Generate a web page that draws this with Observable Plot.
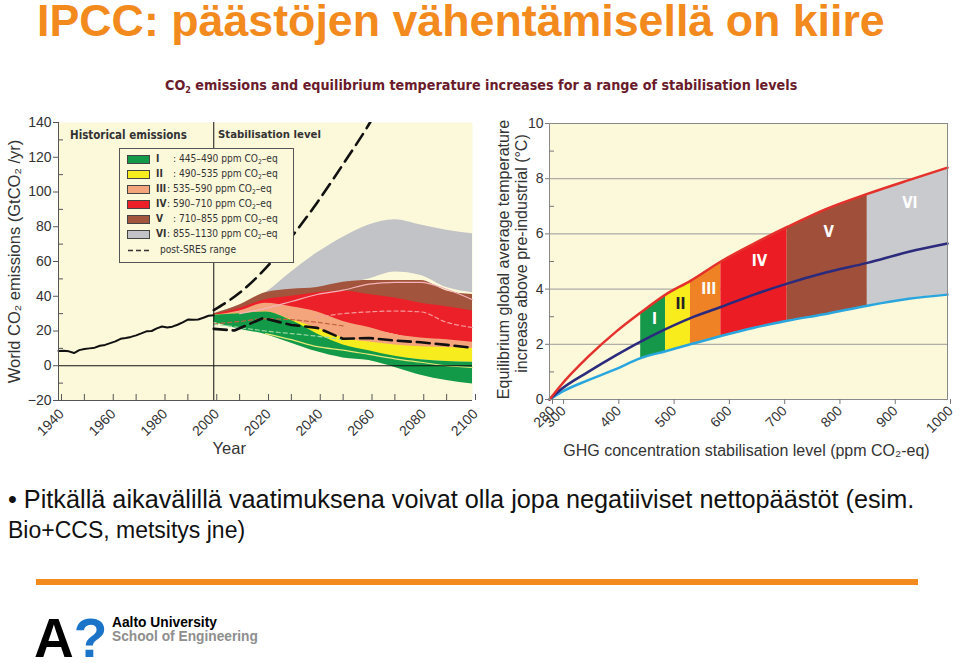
<!DOCTYPE html>
<html>
<head>
<meta charset="utf-8">
<script src="https://cdn.jsdelivr.net/npm/d3@7"></script>
<script src="https://cdn.jsdelivr.net/npm/@observablehq/plot@0.6"></script>
<style>
  html, body { margin: 0; padding: 0; background: #fff; }
  #page { position: relative; width: 960px; height: 663px; overflow: hidden; font-family: "Liberation Sans", Arial, sans-serif; }
  .abs { position: absolute; white-space: nowrap; }
  #title { left: 37px; top: 1px; font-size: 41px; line-height: 38px; font-weight: bold; color: #f28a1e; }
  #subtitle { left: 165px; top: 78px; font-size: 14px; line-height: 14px; font-weight: bold; color: #6a1b2b; font-family: "Liberation Sans Narrow", "DejaVu Sans Condensed", "Arial Narrow", sans-serif; }
  #subtitle sub { font-size: 9px; vertical-align: -3px; line-height: 0; }
  .bullet { left: 8px; font-size: 23px; line-height: 23px; color: #111; }
  #rule { left: 36px; top: 579px; width: 882px; height: 6px; background: #f28a1e; }
  .narrow { font-family: "Liberation Sans Narrow", "DejaVu Sans Condensed", "Arial Narrow", sans-serif; }
  #legend { left: 119px; top: 148px; width: 173px; height: 113px; background: #fcf8da; border: 1px solid #555; }
  .lrow { position: absolute; left: 0; height: 14px; font-size: 12px; line-height: 14px; color: #333; white-space: nowrap; }
  .sw { position: absolute; left: 7px; top: 3px; width: 21px; height: 7px; border: 1px solid #444; }
  .lnum { position: absolute; left: 36px; font-weight: bold; }
  .ltxt { position: absolute; left: 53px; }
  .ltxt sub { font-size: 0.65em; vertical-align: -2px; line-height: 0; }
  .phase { font-size: 13.5px; line-height: 14px; font-weight: bold; color: #333; }
  #logoA { left: 34px; top: 618px; font-size: 55px; line-height: 40px; font-weight: bold; color: #000; }
  #logoQ { color: #1b74c8; }
  #aalto1 { left: 112px; top: 616px; font-size: 13px; line-height: 13px; font-weight: bold; color: #000; }
  #aalto2 { left: 112px; top: 630px; font-size: 13px; line-height: 13px; font-weight: bold; color: #8e8e8e; }
</style>
</head>
<body>
<div id="page">
  <div id="title" class="abs" data-w="848">IPCC: päästöjen vähentämisellä on kiire</div>
  <div id="subtitle" class="abs" data-w="633">CO<sub>2</sub> emissions and equilibrium temperature increases for a range of stabilisation levels</div>
  <div id="leftChart" class="abs" style="left:0; top:110px;"></div>
  <div id="rightChart" class="abs" style="left:490px; top:110px;"></div>
  <div class="abs phase narrow" style="left:70px; top:128px;" data-w="117">Historical emissions</div>
  <div class="abs phase narrow" style="left:218px; top:128px;" data-w="103">Stabilisation level</div>
  <div id="legend" class="abs narrow"></div>
  <div class="abs bullet" style="top:488px;" data-w="907">• Pitkällä aikavälillä vaatimuksena voivat olla jopa negatiiviset nettopäästöt (esim.</div>
  <div class="abs bullet" style="top:519px;">Bio+CCS, metsitys jne)</div>
  <div id="rule" class="abs"></div>
  <div id="logoA" class="abs">A<span id="logoQ">?</span></div>
  <div id="aalto1" class="abs" data-w="105">Aalto University</div>
  <div id="aalto2" class="abs" data-w="146">School of Engineering</div>
</div>
<script>
// ---------- LEFT CHART DATA ----------
const histYears = [1940,1942,1944,1946,1948,1950,1952,1954,1956,1958,1960,1962,1964,1966,1968,1970,1972,1974,1976,1978,1980,1982,1984,1986,1988,1990,1992,1994,1996,1998,2000];
const histEmissions = [8.5,8.7,8.3,7.3,9.0,9.6,10.0,10.4,11.5,12.0,13.0,14.0,15.5,16.0,16.6,17.5,18.6,19.8,20.0,21.5,22.6,22.0,22.5,23.6,25.0,26.6,26.5,26.6,27.6,28.8,29.0];

const scenYears = [2000,2010,2020,2030,2040,2050,2060,2070,2080,2090,2100];
const categories = ["I","II","III","IV","V","VI"];
const categoryRanges = ["445–490","490–535","535–590","590–710","710–855","855–1130"];
const emisColors = ["#139a48","#f6ec1e","#f4a57c","#ec2028","#a2543c","#c2c3c6"];
const emisLow = {
  VI:  [30,34,38,41,44,47,50,54,52,45,42],
  V:   [29,32,35,37,38,38,37,36,34,33,31],
  IV:  [28,30,32,30,28,24,21,18,15,14,12],
  III: [27,28,29,25,20,15,13,11,10,9.5,9.5],
  II:  [27,28,29,24,16,10,7,5,3.5,2.5,2],
  I:   [25,21,18,13,8,4.5,3,-1,-5.5,-8.5,-10.5]
};
const emisHigh = {
  VI:  [30,35,42,54,65,74,81,84,81,78,76],
  V:   [30,35,42,44,45,48,49,49,49,43,41],
  IV:  [29.5,33,38,40,42,43,41,39,36,34,31.5],
  III: [29,31.5,36,34,31,25.5,22,18,16,15,13.5],
  II:  [29,30,31,26.5,21.7,16,13.6,12,11,10.5,10],
  I:   [29,30,31,26,18.3,12,8.6,5.4,3.5,2.5,2]
};
// post-SRES range
const sresUpperYears = [2000,2010,2020,2030,2040,2050,2060,2062];
const sresUpper = [32,42,56,74,94,116,139,144];
const sresLowerYears = [2000,2008,2019,2030,2040,2050,2060,2070,2080,2090,2100];
const sresLower = [21.2,20.3,27.4,23.5,21.8,15.5,16,14.5,13.5,12,10.3];
// faint median lines inside bands
const medYearsA = [2010,2020,2030,2040,2050,2060,2070,2080,2090,2100];
const medPinkA = [30,33,37,41,43.5,47,48,48,44,38];
const medYearsB = [2040,2050,2060,2070,2080,2090,2100];
const medPinkB = [28,30,31,31.5,31,25,22];
const medYearsC = [2000,2010,2020,2030,2040,2050];
const medBrownC = [24,25.5,27,26.5,25,23];
const medYearsD = [2020,2030,2040,2050,2060,2070,2080,2090,2100];
const medYellowD = [18.5,15,11,9,6.5,4,2,0,-1];
const medYearsE = [2000,2010,2020,2030,2040,2050];
const medGreenE = [24,22,20,18.5,17,15];

const xTicksL = [1940,1960,1980,2000,2020,2040,2060,2080,2100];
const xMinorL = [1950,1970,1990,2010,2030,2050,2070,2090];
const yTicksL = [-20,0,20,40,60,80,100,120,140];
const yMinorL = [-10,10,30,50,70,90,110,130];

// ---------- RIGHT CHART DATA ----------
const conc = [280,300,350,400,445,490,535,590,650,710,780,855,930,1000];
const tempHigh = [0,0.5,1.55,2.45,3.15,3.8,4.3,5.0,5.65,6.25,6.9,7.45,7.95,8.4];
const tempBest = [0,0.35,1.0,1.6,2.1,2.55,2.95,3.35,3.8,4.2,4.6,4.95,5.35,5.65];
const tempLow  = [0,0.25,0.7,1.1,1.5,1.75,2.0,2.3,2.6,2.85,3.1,3.4,3.65,3.8];
const bandEdges = [445,490,535,590,710,855,1000];
const tempColors = ["#16984a","#f8ec1c","#f08226","#ec1c24","#a0503a","#c9cacd"];
const labelX = [470,517,568,660,785,932];
const labelY = [2.9,3.45,4.0,5.0,6.05,7.1];
const labelFill = ["#fff","#222","#fff","#fff","#fff","#fff"];
const xTicksR = [280,300,400,500,600,700,800,900,1000];
const yTicksR = [0,2,4,6,8,10];
const yMinorR = [1,3,5,7,9];
const gridR = [2,4,6,8];

const fmtNum = d => d < 0 ? "−" + Math.abs(d) : String(d);
const cream = "#fcf8da";
const fontStack = "'Liberation Sans', Arial, sans-serif";

// ---------- LEFT CHART ----------
const order = ["VI","V","IV","III","II","I"];
const bandMarks = order.map(k => Plot.areaY(scenYears, {
  x: d => d, y1: emisLow[k], y2: emisHigh[k],
  fill: emisColors[categories.indexOf(k)], curve: "monotone-x"
}));

const leftPlot = Plot.plot({
  width: 480, height: 350,
  marginLeft: 58, marginRight: 8, marginTop: 12, marginBottom: 60,
  style: {fontFamily: fontStack, fontSize: "14px", color: "#333", background: "transparent", overflow: "visible"},
  x: {domain: [1940, 2100]},
  y: {domain: [-20, 140]},
  marks: [
    Plot.frame({fill: cream, stroke: null}),
    ...bandMarks,
    Plot.line(medYearsA, {x: d => d, y: medPinkA, stroke: "#f3b3b8", strokeWidth: 1.2, curve: "monotone-x"}),
    Plot.line(medYearsB, {x: d => d, y: medPinkB, stroke: "#f49a9a", strokeWidth: 1.2, strokeDasharray: "4,3", curve: "monotone-x"}),
    Plot.line(medYearsC, {x: d => d, y: medBrownC, stroke: "#c0643c", strokeWidth: 1.2, strokeDasharray: "4,3", curve: "monotone-x"}),
    Plot.line(medYearsD, {x: d => d, y: medYellowD, stroke: "#e9e87a", strokeWidth: 1.2, curve: "monotone-x"}),
    Plot.line(medYearsE, {x: d => d, y: medGreenE, stroke: "#9ad8a0", strokeWidth: 1.2, strokeDasharray: "4,3", curve: "monotone-x"}),
    Plot.line(sresLowerYears, {x: d => d, y: sresLower, stroke: "#111", strokeWidth: 2.6, strokeDasharray: "13,6"}),
    Plot.line(sresUpperYears, {x: d => d, y: sresUpper, stroke: "#111", strokeWidth: 2.6, strokeDasharray: "13,7", clip: true, curve: "monotone-x"}),
    Plot.line(histYears, {x: d => d, y: histEmissions, stroke: "#111", strokeWidth: 2}),
    Plot.ruleY([0], {stroke: "#111", strokeWidth: 1}),
    Plot.ruleX([2000], {stroke: "#111", strokeWidth: 1}),
    Plot.ruleX([1940], {stroke: "#555", strokeWidth: 1}),
    Plot.ruleY([-20], {stroke: "#555", strokeWidth: 1}),
    Plot.axisX({ticks: xTicksL, tickFormat: d => String(d), tickRotate: -45, tickSize: -6, tickPadding: 17, dx: 3, label: null, stroke: "#555"}),
    Plot.axisX({ticks: xMinorL, tickFormat: () => "", tickSize: -6, label: null, stroke: "#555"}),
    Plot.axisY({ticks: yTicksL, tickFormat: fmtNum, tickSize: 5, tickPadding: 2, label: null, stroke: "#555"}),
    Plot.axisY({ticks: yMinorL, tickFormat: () => "", tickSize: -5, label: null, stroke: "#555"}),
    Plot.text(["World CO₂ emissions (GtCO₂ /yr)"], {frameAnchor: "left", textAnchor: "middle", rotate: -90, dx: -44, fontSize: 16.5, fill: "#333"}),
    Plot.text(["Year"], {x: 2006, frameAnchor: "bottom", textAnchor: "middle", dy: 53, fontSize: 16.5, fill: "#333"})
  ]
});
document.getElementById("leftChart").appendChild(leftPlot);

// ---------- RIGHT CHART ----------
const idx = conc.map((_, i) => i);
const tempBandMarks = categories.map((c, j) => {
  const lo = bandEdges[j], hi = bandEdges[j + 1];
  const sel = idx.filter(i => conc[i] >= lo && conc[i] <= hi);
  return Plot.areaY(sel, {x: i => conc[i], y1: i => tempLow[i], y2: i => tempHigh[i], fill: tempColors[j], curve: "monotone-x"});
});

const rightPlot = Plot.plot({
  width: 470, height: 350,
  marginLeft: 59, marginRight: 13, marginTop: 13, marginBottom: 61,
  style: {fontFamily: fontStack, fontSize: "14px", color: "#333", background: "transparent", overflow: "visible"},
  x: {domain: [280, 1000]},
  y: {domain: [0, 10]},
  color: {type: "identity"},
  marks: [
    Plot.frame({fill: cream, stroke: null}),
    Plot.ruleY(gridR, {stroke: "#9a9a9a", strokeWidth: 1}),
    ...tempBandMarks,
    Plot.line(idx, {x: i => conc[i], y: i => tempLow[i], stroke: "#2aa6df", strokeWidth: 2.5, curve: "monotone-x"}),
    Plot.line(idx, {x: i => conc[i], y: i => tempBest[i], stroke: "#2b2a7c", strokeWidth: 2.5, curve: "monotone-x"}),
    Plot.line(idx, {x: i => conc[i], y: i => tempHigh[i], stroke: "#e5312c", strokeWidth: 2.5, curve: "monotone-x"}),
    Plot.text(categories, {x: labelX, y: labelY, text: d => d, fill: labelFill, fontWeight: "bold", fontSize: 15, fontFamily: "'Liberation Sans Narrow', 'DejaVu Sans Condensed', sans-serif"}),
    Plot.frame({stroke: "#8a8a8a", strokeWidth: 1}),
    Plot.axisX({ticks: xTicksR, tickFormat: d => String(d), tickRotate: -45, tickSize: 5, tickPadding: 4, dx: 3, label: null, stroke: "#777"}),
    Plot.axisY({ticks: yTicksR, tickFormat: d => String(d), tickSize: 4, tickPadding: 2, label: null, stroke: "#777"}),
    Plot.axisY({ticks: yMinorR, tickFormat: () => "", tickSize: -5, label: null, stroke: "#777"}),
    Plot.text(["Equilibrium global average temperature"], {frameAnchor: "left", textAnchor: "middle", rotate: -90, dx: -46, dy: -2, fontSize: 16, fill: "#333"}),
    Plot.text(["increase above pre-industrial (°C)"], {frameAnchor: "left", textAnchor: "middle", rotate: -90, dx: -28, dy: -8, fontSize: 16, fill: "#333"}),
    Plot.text(["GHG concentration stabilisation level (ppm CO₂-eq)"], {frameAnchor: "bottom", textAnchor: "middle", dy: 56, dx: -2, fontSize: 16, fill: "#333"})
  ]
});
document.getElementById("rightChart").appendChild(rightPlot);

// ---------- LEGEND ----------
const legend = document.getElementById("legend");
const rowTops = [3, 18, 33, 48, 63, 78, 94];
const txtLeft = [53, 53, 47, 47, 53, 47];
categories.forEach((c, i) => {
  const row = document.createElement("div");
  row.className = "lrow";
  row.style.top = rowTops[i] + "px";
  row.style.width = "172px";
  row.innerHTML = `<div class="sw" style="background:${emisColors[i]}"></div>` +
    `<span class="lnum">${c}</span><span class="ltxt">: ${categoryRanges[i]} ppm CO<sub>2</sub>–eq</span>`;
  row.querySelector(".ltxt").style.left = txtLeft[i] + "px";
  legend.appendChild(row);
});
const srow = document.createElement("div");
srow.className = "lrow";
srow.style.top = rowTops[6] + "px";
srow.innerHTML = `<svg style="position:absolute;left:8px;top:6px" width="24" height="3"><line x1="0" y1="1.5" x2="24" y2="1.5" stroke="#333" stroke-width="1.5" stroke-dasharray="5,3"/></svg><span class="ltxt" style="left:40px">post-SRES range</span>`;
legend.appendChild(srow);
// scale legend font so the first row's text spans the reference width
{
  const first = legend.querySelector(".ltxt");
  const w = first.getBoundingClientRect().width;
  const fs = 12 * 105 / w;
  legend.querySelectorAll(".lrow").forEach(r => r.style.fontSize = fs + "px");
}

// ---------- fit text widths ----------
document.querySelectorAll("[data-w]").forEach(el => {
  const target = +el.dataset.w;
  const w = el.getBoundingClientRect().width;
  const fs = parseFloat(getComputedStyle(el).fontSize);
  if (w > 0) el.style.fontSize = (fs * target / w) + "px";
});
</script>
</body>
</html>
